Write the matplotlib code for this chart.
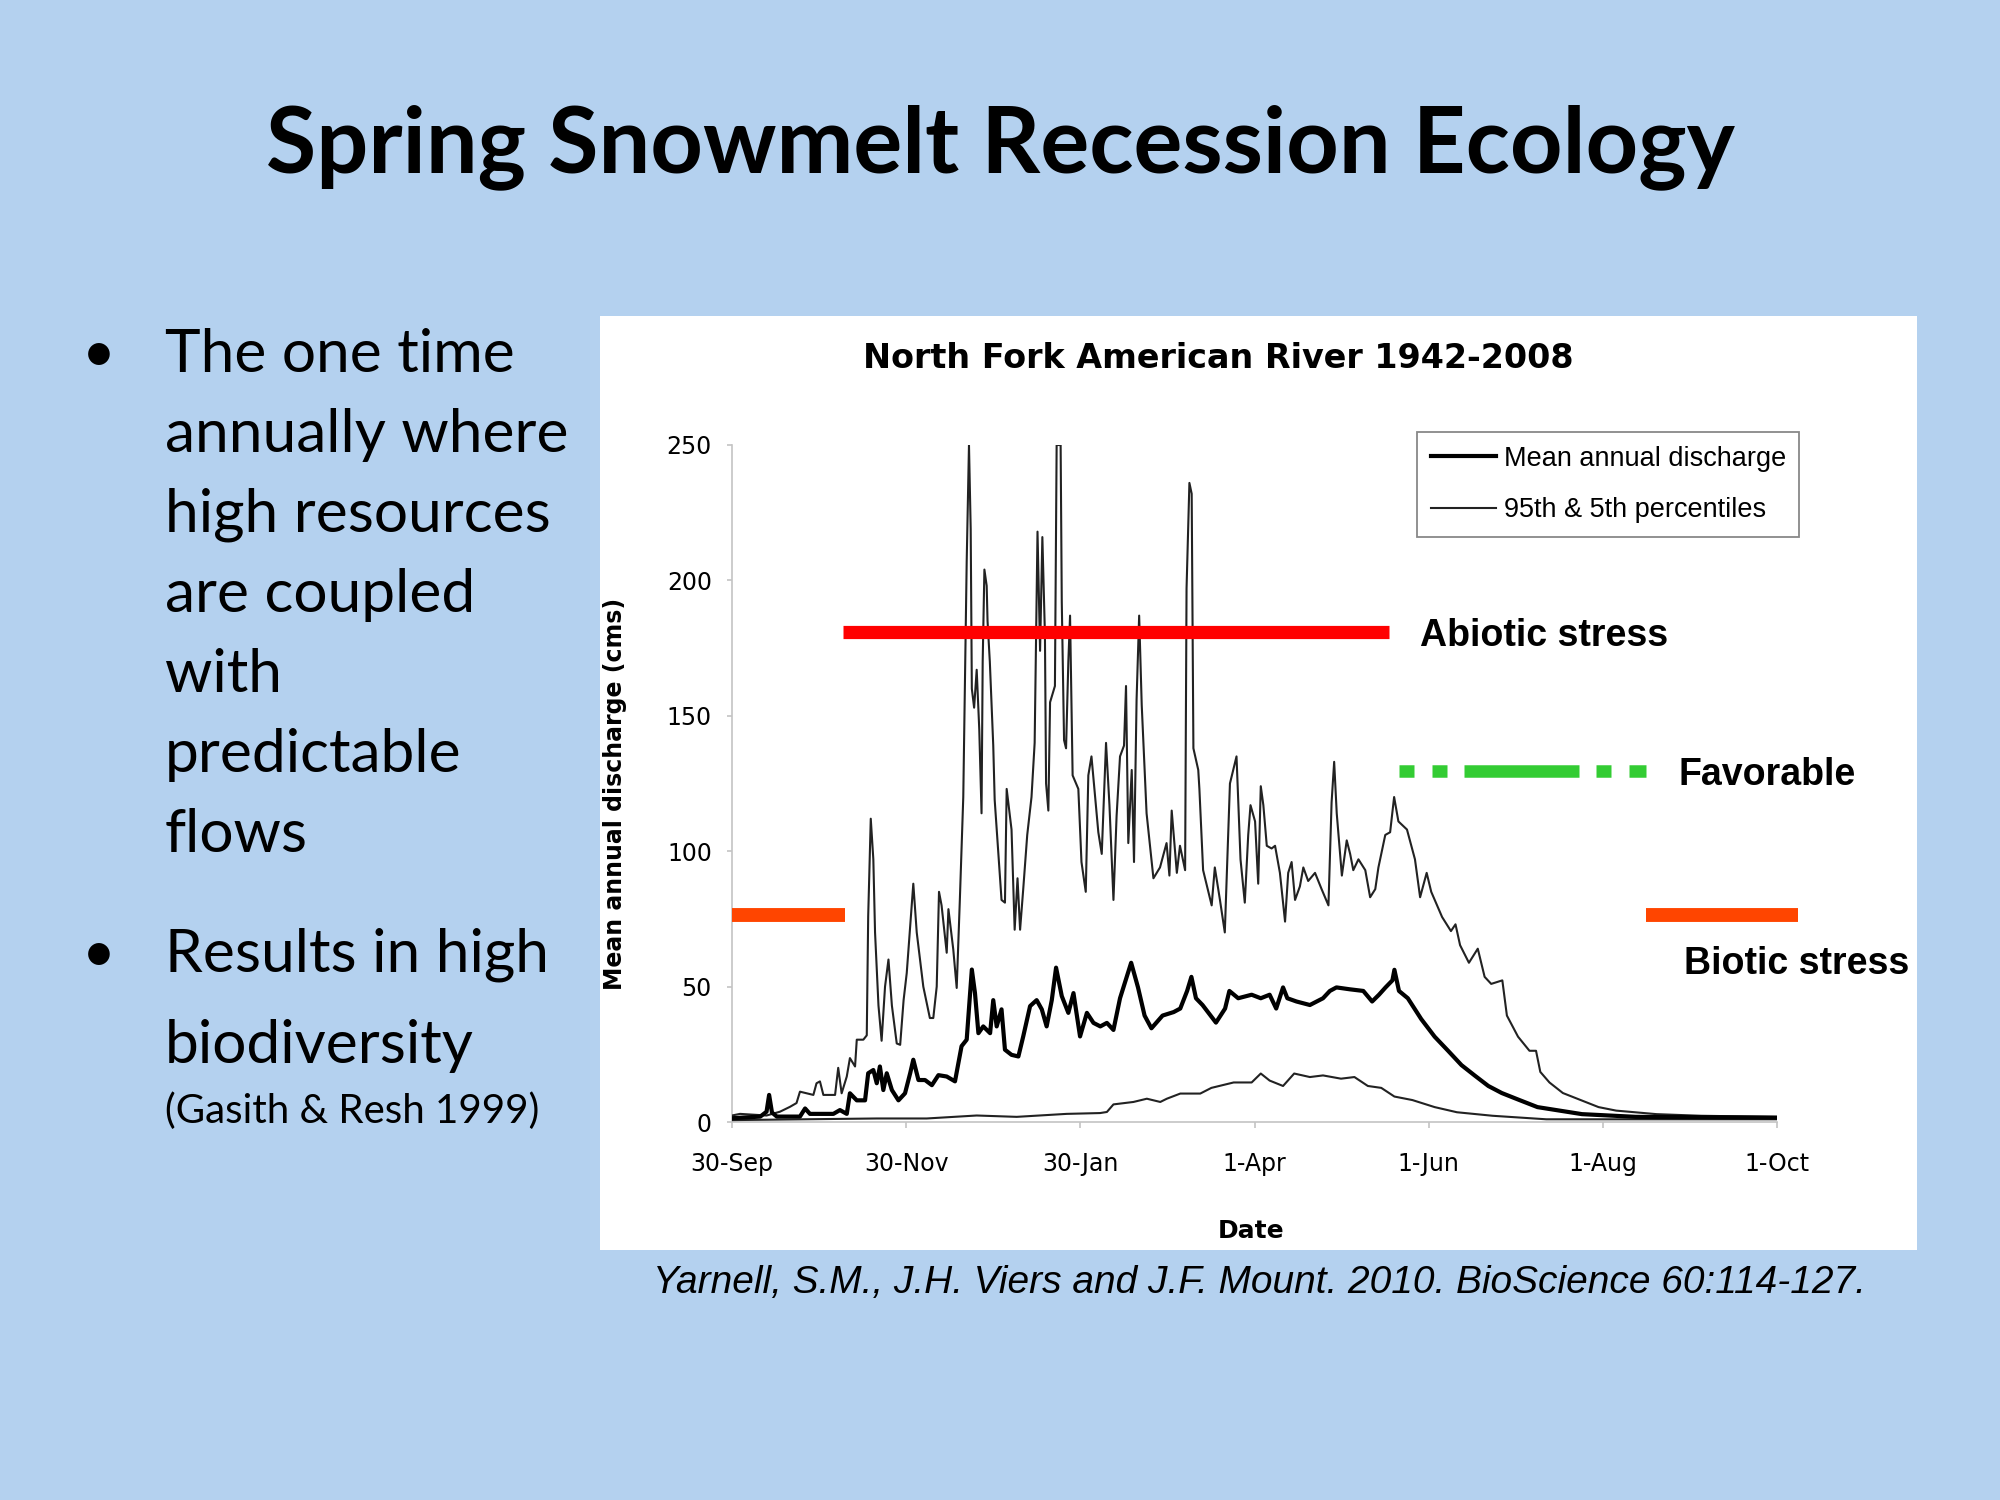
import matplotlib
matplotlib.use("Agg")
import matplotlib.pyplot as plt
from matplotlib.patches import Rectangle
from matplotlib.lines import Line2D

# ---- data (day 0 = 30-Sep, discharge in cms) ----
days_95 = [0, 2.8, 12.1, 16.8, 20.3, 22.6, 23.8, 28.5, 29.6, 30.8,
           32, 36.1, 37.2, 38.4, 40.2, 41.3, 43.1, 43.7, 46, 47.2,
           47.7, 48.6, 49.5, 50.1, 51.3, 52.4, 53.6, 54.8, 56, 57.7,
           58.9, 60.1, 61.2, 62.4, 63.5, 64.7, 67, 69.3, 70.5, 71.7,
           72.5, 73.4, 75.2, 75.8, 77.5, 78.7, 79.8, 81, 82.2, 83,
           83.6, 84, 84.8, 85.7, 86.6, 87.4, 87.8, 88.4, 89.2, 89.5,
           90.3, 91.5, 92, 94.4, 95.6, 96.2, 97.9, 99, 100, 100.9,
           102, 103.4, 104.9, 106, 107, 107.9, 108.7, 109.6, 110, 110.8,
           111.4, 113.1, 113.7, 115.1, 115.5, 116.3, 117, 117.8, 118.4, 119.3,
           121.3, 122.4, 123.9, 124.8, 125.9, 127, 128.3, 129.5, 131, 132.2,
           133.6, 134.7, 135.9, 137.3, 138, 138.8, 140, 140.8, 141.7, 142.6,
           143.5, 145.2, 147.6, 149.9, 152.2, 153.2, 154, 155.8, 156.9, 158.7,
           159.2, 160.2, 161, 161.6, 163.3, 163.7, 165, 168, 169.1, 170.9,
           172.6, 174.4, 176.7, 178.1, 179.6, 180.8, 181.6, 183.2, 184.3, 185.2,
           186.1, 187.3, 189, 190.2, 191.9, 193.7, 194.8, 196, 197.2, 198.9,
           200.1, 201.8, 204.2, 206.5, 208.9, 210, 210.9, 211.8, 213.6, 215.3,
           216.5, 217.6, 219.4, 221.8, 223.5, 225.3, 226.4, 228.8, 230.5, 231.9,
           233.4, 236.4, 239.2, 241, 243.3, 244.9, 248.7, 251.8, 253.4, 255,
           258.1, 261.2, 263.6, 265.9, 269.8, 271.4, 275.3, 279.3, 281.6, 283.1,
           286.3, 291, 297.2, 303.5, 309.7, 323.8, 339.4, 366]
values_95 = [2.4, 3, 2.4, 3.8, 5.6, 7, 11.2, 10, 14.3, 15,
             10, 10, 20, 10.6, 16.8, 23.6, 20.5, 30.4, 30.4, 32,
             76, 112, 97, 70, 43, 30, 50, 60, 43, 29,
             28.5, 45, 55, 72, 88, 70, 50, 38.4, 38.4, 50,
             85, 80, 62.5, 78.6, 63.7, 49.5, 82, 120, 207, 250,
             219, 160, 153, 167, 145, 114, 170, 204, 198, 185,
             170, 139, 119, 82, 81, 123, 108, 71, 90, 71,
             86, 106, 120, 140, 218, 174, 216, 180, 125, 115,
             155, 161, 250, 250, 192, 141, 138, 170, 187, 128,
             123, 96, 85, 128, 135, 122, 107, 99, 140, 117,
             82, 113, 135, 139, 161, 103, 130, 96, 156, 187,
             154, 114, 90, 94, 103, 91, 115, 92, 102, 93,
             197, 236, 232, 138, 130, 123, 93, 80, 94, 82,
             70, 125, 135, 97, 81, 106, 117, 111, 88, 124,
             117, 102, 101, 102, 92, 74, 92, 96, 82, 87,
             94, 89, 92, 86, 80, 118, 133, 114, 91, 104,
             99, 93, 97, 93, 83, 86, 94, 106, 107, 120,
             111, 108, 97, 83, 92, 85, 75.7, 70.5, 73, 65.3,
             58.8, 64, 53.6, 51, 52.3, 39.3, 31.5, 26.3, 26.3, 18.5,
             14.6, 10.7, 8.1, 5.5, 4.2, 2.9, 2.3, 1.9]

days_mean = [0, 9.9, 12.1, 13, 14, 15.7, 23.8, 25.6, 27.3, 35.5,
             37.8, 40.2, 41.3, 43.7, 46.6, 47.7, 49.5, 50.7, 51.8, 53,
             54.2, 56, 58.3, 60.6, 62.4, 63.5, 65.3, 67.6, 70, 72.3,
             75.2, 78.1, 79.3, 80.4, 82.2, 84, 85.1, 86.3, 88, 90.4,
             91.5, 92.7, 94.4, 95.6, 97.9, 100.3, 102, 104.4, 106.7, 108.5,
             110.2, 112, 113.5, 115.5, 117.8, 119.6, 121.9, 124.3, 126.6, 129,
             131.3, 133.6, 135.9, 139.8, 142.2, 144.5, 146.9, 150.8, 154.7, 157,
             159.4, 160.9, 162.5, 164.8, 169.5, 172.7, 174.2, 177.3, 182, 185.2,
             188.3, 190.6, 193, 194.5, 197.7, 202.4, 207, 209.4, 211.7, 216.4,
             221.1, 224.2, 226.6, 228.9, 231.3, 232, 233.6, 236.7, 241.4, 246.1,
             250.8, 255.5, 260.2, 264.9, 269.6, 275.8, 282.1, 289.9, 297.7, 316.5,
             366]
values_mean = [1.4, 2, 3.8, 10, 3.5, 2, 2, 5, 3, 3,
               4.4, 3, 10.6, 8, 8, 18, 19.2, 14.3, 20.5, 11.8,
               18, 11.8, 8, 10.6, 18, 23, 15.5, 15.5, 13.6, 17.3,
               16.8, 15, 21.8, 28, 30.4, 56.3, 47.6, 32.8, 35.3, 32.8,
               45, 35.3, 41.6, 26.7, 24.8, 24.2, 31.6, 42.8, 45, 41.6,
               35.3, 45, 57, 46.5, 40.3, 47.6, 31.6, 40.3, 36.6, 35.3,
               36.6, 34, 45.7, 58.8, 49.7, 39.3, 34.6, 39.3, 40.6, 41.9,
               48.4, 53.6, 45.7, 43.2, 36.7, 41.9, 48.4, 45.7, 47, 45.7,
               47, 41.9, 49.7, 45.7, 44.5, 43.2, 45.7, 48.4, 49.7, 49,
               48.4, 44.5, 47, 49.7, 52.3, 56.2, 48.4, 45.7, 38, 31.5,
               26.3, 21, 17.1, 13.3, 10.7, 8.1, 5.5, 4.2, 2.9, 1.9,
               1.6]

days_5 = [0, 50.7, 68.2, 85.7, 99.7, 117.2, 128.9, 131.3, 133.6, 140.6,
          145.3, 150, 152.3, 157, 164, 167.9, 175.7, 182, 185.2, 188.3,
          193, 196.9, 202.4, 207, 213.3, 218, 222.7, 227.4, 232, 238.3,
          246.1, 253.9, 266.4, 285.2, 366]
values_5 = [0.7, 1.3, 1.3, 2.4, 1.9, 3, 3.3, 3.7, 6.5, 7.4,
            8.6, 7.4, 8.6, 10.5, 10.5, 12.6, 14.6, 14.6, 17.9, 15.3,
            13.3, 17.9, 16.6, 17.2, 16, 16.6, 13.3, 12.6, 9.4, 8.1,
            5.5, 3.6, 2.3, 1, 1]

tick_days = [0, 61, 122, 183, 244, 305, 366]
tick_labels = ["30-Sep", "30-Nov", "30-Jan", "1-Apr", "1-Jun", "1-Aug", "1-Oct"]
y_ticks = [0, 50, 100, 150, 200, 250]

# stress / favorable bands (level, start day, end day)
abiotic_level = 181
abiotic_start = [39]
abiotic_end = [230]
favorable_level = 129.5
favorable_start = [233.5, 245, 256.5, 302.5, 314]
favorable_end = [239, 250.5, 296.5, 308, 320]
biotic_level = 76.3
biotic_start = [0, 320]
biotic_end = [39.5, 373.5]

bullet_one = ["The one time", "annually where", "high resources",
              "are coupled", "with", "predictable", "flows"]
bullet_two = ["Results in high", "biodiversity"]

BG = "#B4D1EF"
W, H = 2000, 1500


def fx(px):
    return px / W


def fy(py):
    return 1 - py / H


fig = plt.figure(figsize=(20, 15), dpi=100)
fig.patch.set_facecolor(BG)

# white panel behind the chart
fig.add_artist(Rectangle((fx(600), fy(1250)), fx(1317), 934 / H,
                         transform=fig.transFigure, facecolor="white",
                         edgecolor="none", zorder=0))

# slide title
fig.text(0.5, fy(172), "Spring Snowmelt Recession Ecology", family="Lato",
         fontweight="bold", fontsize=66, ha="center", va="baseline")

# bullets
fig.text(fx(82), fy(372), "\u2022", family="Lato", fontsize=42, va="baseline")
for i, line in enumerate(bullet_one):
    fig.text(fx(165), fy(372 + 80 * i), line, family="Lato", fontsize=43.5,
             va="baseline")
fig.text(fx(82), fy(972), "\u2022", family="Lato", fontsize=42, va="baseline")
for i, line in enumerate(bullet_two):
    fig.text(fx(165), fy(972 + 91 * i), line, family="Lato", fontsize=43.5,
             va="baseline")
fig.text(fx(165), fy(1123), "(Gasith & Resh 1999)", family="Lato",
         fontsize=29, va="baseline")

# citation
fig.text(fx(1259), fy(1283),
         "Yarnell, S.M., J.H. Viers and J.F. Mount. 2010. BioScience 60:114-127.",
         family="Liberation Sans", style="italic", fontsize=28,
         ha="center", va="center")

# ---- chart ----
ax = fig.add_axes([fx(732), fy(1122), 1045 / W, 677 / H])
ax.set_facecolor("none")
ax.set_zorder(2)

ax.plot(days_95, values_95, color="#222222", lw=1.5, zorder=3)
ax.plot(days_5, values_5, color="#222222", lw=1.5, zorder=3)
ax.plot(days_mean, values_mean, color="black", lw=3.0, zorder=4)

for level, starts, ends, color, lw in [
        (abiotic_level, abiotic_start, abiotic_end, "#FF0000", 9.5),
        (favorable_level, favorable_start, favorable_end, "#33CC33", 9),
        (biotic_level, biotic_start, biotic_end, "#FF4500", 10)]:
    lc = ax.hlines([level] * len(starts), starts, ends, colors=color,
                   linewidth=lw, zorder=5, clip_on=False)
    lc.set_capstyle("butt")

ann = dict(family="Liberation Sans", fontweight="bold", fontsize=27,
           ha="left", va="center", color="black")
ax.text(241, 179.6, "Abiotic stress", **ann)
ax.text(331.5, 128, "Favorable", **ann)
ax.text(333.5, 58.3, "Biotic stress", **ann)

ax.set_xlim(0, 366)
ax.set_ylim(0, 250)
ax.set_xticks(tick_days)
ax.set_xticklabels(tick_labels)
ax.set_yticks(y_ticks)
for s in ["top", "right"]:
    ax.spines[s].set_visible(False)
for s in ["left", "bottom"]:
    ax.spines[s].set_color("#C4C4C4")
    ax.spines[s].set_linewidth(1.2)
ax.tick_params(axis="x", length=4.5, width=1.2, color="#C4C4C4", pad=17,
               labelsize=17, labelcolor="black")
ax.tick_params(axis="y", length=3.5, width=1.2, color="#C4C4C4", pad=11,
               labelsize=17, labelcolor="black")

handles = [Line2D([], [], color="black", lw=3.0),
           Line2D([], [], color="#222222", lw=1.5)]
leg = fig.legend(handles, ["Mean annual discharge", "95th & 5th percentiles"],
                 loc="upper left", bbox_to_anchor=(fx(1417), fy(432)),
                 bbox_transform=fig.transFigure, frameon=True, fancybox=False,
                 edgecolor="#888888", framealpha=1, borderaxespad=0,
                 prop={"family": "Liberation Sans", "size": 19.5},
                 handlelength=2.4, handletextpad=0.3, labelspacing=0.95,
                 borderpad=0.5)
leg.get_frame().set_linewidth(1.3)
leg.set_zorder(6)

fig.text(fx(1218), fy(358), "North Fork American River 1942-2008",
         fontweight="bold", fontsize=24, ha="center", va="center")
fig.text(fx(615), fy(794), "Mean annual discharge (cms)", fontweight="bold",
         fontsize=17, rotation=90, ha="center", va="center")
fig.text(fx(1251), fy(1231), "Date", fontweight="bold", fontsize=18,
         ha="center", va="center")

fig.savefig("out.png", dpi=100, facecolor=BG)
